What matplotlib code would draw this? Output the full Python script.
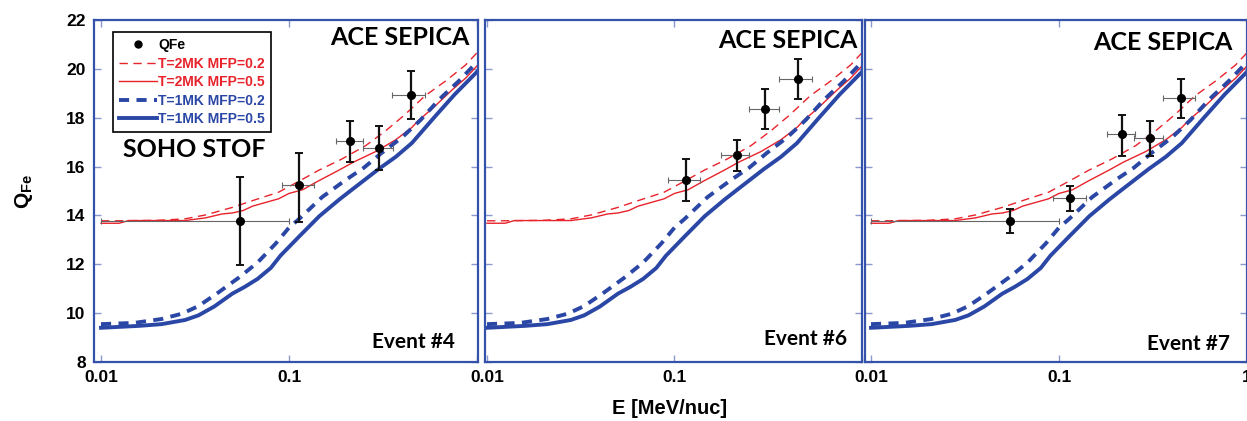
import numpy as np
import matplotlib
matplotlib.use('Agg')
import matplotlib.pyplot as plt
from matplotlib.lines import Line2D

plt.rcParams['font.family'] = ['Liberation Sans', 'DejaVu Sans']
plt.rcParams['font.weight'] = 'bold'
plt.rcParams['mathtext.fontset'] = 'custom'
plt.rcParams['mathtext.rm'] = 'Liberation Sans:bold'


############################################
"""              Model curves             """
############################################

# T=2MK MFP=0.2 (red dashed)
E_t2_m02 = [0.010, 0.012, 0.020, 0.028, 0.036, 0.050, 0.066, 0.088, 0.113, 0.144,
            0.19, 0.255, 0.325, 0.41, 0.53, 0.68, 0.87, 1.0]
Q_t2_m02 = [13.78, 13.78, 13.80, 13.86, 14.02, 14.33, 14.64, 14.95, 15.40, 15.85,
            16.30, 16.85, 17.45, 18.10, 18.90, 19.50, 20.16, 20.66]

# T=2MK MFP=0.5 (red solid)
E_t2_m05 = [0.010, 0.0125, 0.014, 0.020, 0.028, 0.036, 0.044, 0.050, 0.057, 0.064,
            0.075, 0.088, 0.100, 0.118, 0.144, 0.184, 0.22, 0.29, 0.37, 0.45,
            0.49, 0.58, 0.74, 0.87, 1.0]
Q_t2_m05 = [13.68, 13.68, 13.79, 13.79, 13.79, 13.90, 14.06, 14.10, 14.20, 14.38,
            14.53, 14.68, 14.90, 15.05, 15.42, 15.85, 16.18, 16.62, 17.10, 17.60,
            17.90, 18.38, 19.15, 19.62, 20.12]

# T=1MK MFP=0.2 (blue dashed)
E_t1_m02 = [0.010, 0.015, 0.021, 0.027, 0.033, 0.042, 0.054, 0.068, 0.085, 0.100,
            0.113, 0.150, 0.20, 0.25, 0.31, 0.40, 0.50, 0.63, 0.80, 1.0]
Q_t1_m02 = [9.55, 9.60, 9.76, 9.98, 10.29, 10.84, 11.45, 12.07, 12.85, 13.50,
            13.85, 14.75, 15.45, 15.95, 16.55, 17.20, 17.90, 18.75, 19.50, 20.28]

# T=1MK MFP=0.5 (blue solid)
E_t1_m05 = [0.010, 0.016, 0.021, 0.028, 0.033, 0.040, 0.050, 0.058, 0.068, 0.080,
            0.090, 0.114, 0.145, 0.185, 0.22, 0.30, 0.37, 0.45, 0.59, 0.76, 1.0]
Q_t1_m05 = [9.40, 9.48, 9.55, 9.72, 9.91, 10.27, 10.80, 11.07, 11.40, 11.85,
            12.35, 13.16, 13.97, 14.65, 15.10, 15.90, 16.40, 16.96, 18.00, 18.95, 19.88]


############################################
"""              Measured QFe             """
############################################

event_names = ['Event #4', 'Event #6', 'Event #7']

E_ev4 = [0.0547, 0.113, 0.212, 0.301, 0.445]
E_ev4_lo = [0.010, 0.0914, 0.177, 0.247, 0.354]
E_ev4_hi = [0.100, 0.136, 0.247, 0.356, 0.532]
Q_ev4 = [13.78, 15.24, 17.05, 16.78, 18.93]
Q_ev4_lo = [11.96, 13.73, 16.19, 15.85, 17.94]
Q_ev4_hi = [15.58, 16.54, 17.87, 17.67, 19.91]

E_ev6 = [0.1146, 0.215, 0.305, 0.453]
E_ev6_lo = [0.092, 0.178, 0.251, 0.359]
E_ev6_hi = [0.137, 0.251, 0.359, 0.540]
Q_ev6 = [15.44, 16.47, 18.35, 19.58]
Q_ev6_lo = [14.58, 15.81, 17.53, 18.76]
Q_ev6_hi = [16.30, 17.08, 19.16, 20.39]

E_ev7 = [0.055, 0.114, 0.216, 0.305, 0.448]
E_ev7_lo = [0.010, 0.093, 0.179, 0.251, 0.356]
E_ev7_hi = [0.100, 0.139, 0.255, 0.359, 0.530]
Q_ev7 = [13.79, 14.72, 17.33, 17.18, 18.82]
Q_ev7_lo = [13.28, 14.17, 16.45, 16.43, 18.00]
Q_ev7_hi = [14.25, 15.22, 18.13, 17.87, 19.60]

events = [
    (E_ev4, E_ev4_lo, E_ev4_hi, Q_ev4, Q_ev4_lo, Q_ev4_hi),
    (E_ev6, E_ev6_lo, E_ev6_hi, Q_ev6, Q_ev6_lo, Q_ev6_hi),
    (E_ev7, E_ev7_lo, E_ev7_hi, Q_ev7, Q_ev7_lo, Q_ev7_hi),
]

x_ticks = [0.01, 0.1, 1]
y_ticks = [8, 10, 12, 14, 16, 18, 20, 22]


############################################
"""                 Plot                  """
############################################

RED = '#E8232B'
BLUE = '#2B47A6'
FRAME = '#3552AA'
TICK = '#8a98d2'

W, H = 1247, 421
fig = plt.figure(figsize=(W / 100, H / 100), dpi=100, facecolor='white')

# pixel boxes (left, right, x of 0.01) for the three pasted panels
panels = [(94, 478, 101), (485, 862, 487), (865, 1247, 871)]
top, bottom = 20, 362

# text placement inside each panel (axes fraction)
ace_pos = [(0.979, 0.927), (0.989, 0.918), (0.963, 0.912)]
evt_pos = [(0.940, 0.041), (0.960, 0.050), (0.955, 0.035)]

for i, (l, r, x01) in enumerate(panels):
    ax = fig.add_axes([l / W, 1 - bottom / H, (r - l) / W, (bottom - top) / H])
    dec = 188.0
    ax.set_xscale('log')
    ax.set_xlim(10 ** (-2 - (x01 - l) / dec), 10 ** (-2 + (r - x01) / dec))
    ax.set_ylim(8, 22)

    ax.plot(E_t2_m02, Q_t2_m02, color=RED, lw=1.0, ls=(0, (6, 4)), label='T=2MK MFP=0.2')
    ax.plot(E_t2_m05, Q_t2_m05, color=RED, lw=1.0, label='T=2MK MFP=0.5')
    ax.plot(E_t1_m02, Q_t1_m02, color=BLUE, lw=2.8, ls=(0, (2.6, 1.9)), label='T=1MK MFP=0.2')
    ax.plot(E_t1_m05, Q_t1_m05, color=BLUE, lw=2.8, label='T=1MK MFP=0.5')

    E, Elo, Ehi, Q, Qlo, Qhi = [np.array(a) for a in events[i]]
    ax.errorbar(E, Q, xerr=[E - Elo, Ehi - E], fmt='none', ecolor='#666666',
                elinewidth=0.8, capsize=2, capthick=0.8, zorder=5)
    ax.errorbar(E, Q, yerr=[Q - Qlo, Qhi - Q], fmt='o', color='black', ms=5.5,
                ecolor='#111111', elinewidth=1.6, capsize=3, capthick=1.4, zorder=6)

    for s in ax.spines.values():
        s.set_color(FRAME)
        s.set_linewidth(1.6)

    ax.set_xticks(x_ticks)
    ax.minorticks_off()
    ax.set_yticks(y_ticks)
    if i == 2:
        ax.set_xticklabels(['0.01', '0.1', '1'])
    else:
        ax.set_xticklabels(['0.01', '0.1', ''])
    if i == 0:
        ax.set_yticklabels([str(v) for v in y_ticks])
    else:
        ax.set_yticklabels([])
    ax.tick_params(which='both', direction='in', length=5, width=1.0, color=TICK,
                   top=True, right=True, labelsize=12.5, pad=6)

    ax.text(ace_pos[i][0], ace_pos[i][1], 'ACE SEPICA', transform=ax.transAxes,
            ha='right', va='baseline', fontsize=18, family='Lato', fontweight='bold')
    ax.text(evt_pos[i][0], evt_pos[i][1], event_names[i], transform=ax.transAxes,
            ha='right', va='baseline', fontsize=15, family='Lato', fontweight='bold')

    if i == 0:
        ax.text(0.0755, 0.599, 'SOHO STOF', transform=ax.transAxes, ha='left',
                va='baseline', fontsize=18, family='Lato', fontweight='bold')
        handles = [Line2D([], [], marker='o', color='black', ls='none', ms=5)]
        h, lab = ax.get_legend_handles_labels()
        handles += h
        labels = ['QFe'] + lab
        leg = ax.legend(handles, labels, loc='upper left',
                        bbox_to_anchor=(113 / W, 1 - 32 / H), bbox_transform=fig.transFigure,
                        borderaxespad=0, fancybox=False, framealpha=1, edgecolor='black',
                        fontsize=10, handlelength=2.7, handletextpad=0.1,
                        labelspacing=0.32, borderpad=0.45)
        leg.get_frame().set_linewidth(1.2)
        for t, c in zip(leg.get_texts(), ['black', RED, RED, BLUE, BLUE]):
            t.set_color(c)

fig.text(24 / W, 1 - 191 / H, r'Q$_{\mathrm{Fe}}$', rotation=90, ha='center', va='center',
         fontsize=15)
fig.text(670 / W, 1 - 408 / H, 'E [MeV/nuc]', ha='center', va='center', fontsize=14.5)

plt.savefig('out.png', dpi=100, facecolor='white')
